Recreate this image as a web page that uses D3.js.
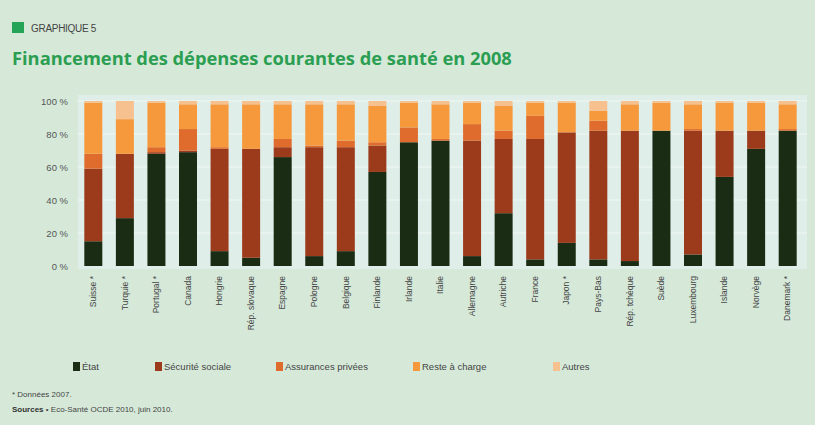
<!DOCTYPE html>
<html>
<head>
<meta charset="utf-8">
<script src="https://cdn.jsdelivr.net/npm/d3@7"></script>
<style>
  body { margin: 0; background: #d6e9d9; }
  svg { display: block; }
  text { font-family: "Liberation Sans Narrow", "Liberation Sans", sans-serif; }
</style>
</head>
<body>
<div id="chart"></div>
<script>
// data (percent of current health spending)
const countries = ["Suisse *", "Turquie *", "Portugal *", "Canada", "Hongrie", "Rép. slovaque",
  "Espagne", "Pologne", "Belgique", "Finlande", "Irlande", "Italie", "Allemagne", "Autriche",
  "France", "Japon *", "Pays-Bas", "Rép. tchèque", "Suède", "Luxembourg", "Islande", "Norvège",
  "Danemark *"];
const etat        = [15, 29, 68, 69, 9, 5, 66, 6, 9, 57, 75, 76, 6, 32, 4, 14, 4, 3, 82, 7, 54, 71, 82];
const secu        = [44, 39, 1, 1, 62, 66, 6, 66, 63, 16, 0, 0, 70, 45, 73, 67, 78, 79, 0, 75, 28, 11, 0];
const assurances  = [9, 0, 3, 13, 1, 0, 5, 1, 4, 2, 9, 1, 10, 5, 14, 0, 6, 0, 0, 1, 0, 0, 1];
const resteCharge = [31, 21, 27, 15, 26, 27, 21, 25, 22, 22, 15, 21, 13, 15, 8, 18, 6, 16, 17, 15, 17, 17, 15];
const autres      = [1, 11, 1, 2, 2, 2, 2, 2, 2, 3, 1, 2, 1, 3, 1, 1, 6, 2, 1, 2, 1, 1, 2];
const seriesNames = ["État", "Sécurité sociale", "Assurances privées", "Reste à charge", "Autres"];
const yTicks = [0, 20, 40, 60, 80, 100];

const W = 815, H = 425;
const colors = ["#1a2c14", "#9c3b1c", "#df6c2c", "#f5993c", "#f6c08f"];
const keys = ["etat", "secu", "assurances", "resteCharge", "autres"];

const rows = countries.map((c, i) => ({
  country: c, etat: etat[i], secu: secu[i], assurances: assurances[i],
  resteCharge: resteCharge[i], autres: autres[i]
}));

const svg = d3.select("#chart").append("svg").attr("width", W).attr("height", H);
svg.append("rect").attr("width", W).attr("height", H).attr("fill", "#d6e9d9");

// header
svg.append("rect").attr("x", 12).attr("y", 22).attr("width", 12).attr("height", 11).attr("fill", "#23a457");
svg.append("text").attr("x", 31).attr("y", 32).attr("font-size", 10).attr("fill", "#444")
  .style("letter-spacing", "-0.3px").text("GRAPHIQUE 5");
svg.append("text").attr("x", 12).attr("y", 65).attr("font-size", 18.3).attr("font-weight", "bold")
  .style("font-family", "'Open Sans', sans-serif")
  .attr("fill", "#2b9e52").text("Financement des dépenses courantes de santé en 2008");

const x = d3.scaleBand().domain(countries).range([78, 803]).paddingInner(0.43).paddingOuter(0.2);
const y = d3.scaleLinear().domain([0, 100]).range([266, 101]);

// plot panel
svg.append("rect").attr("x", 78).attr("y", 95).attr("width", 729).attr("height", 174)
  .attr("fill", "#dfeee8");
svg.append("g").selectAll("line").data(yTicks.slice(1)).join("line")
  .attr("x1", 78).attr("x2", 807)
  .attr("y1", d => y(d)).attr("y2", d => y(d))
  .attr("stroke", "#f1f8f4").attr("stroke-width", 1);

const yAxis = d3.axisLeft(y).tickValues(yTicks).tickSize(0).tickPadding(0)
  .tickFormat(d => d + " %");
const gy = svg.append("g").attr("transform", "translate(68,0)").call(yAxis);
gy.select(".domain").remove();
gy.selectAll("text").attr("font-size", 9.5).attr("fill", "#555").attr("font-family", null);

const stacked = d3.stack().keys(keys)(rows);
svg.append("g").selectAll("g").data(stacked).join("g")
  .attr("fill", (d, i) => colors[i])
  .selectAll("rect").data(d => d).join("rect")
  .attr("x", d => x(d.data.country))
  .attr("width", x.bandwidth())
  .attr("y", d => y(d[1]))
  .attr("height", d => y(d[0]) - y(d[1]));

const xAxis = d3.axisBottom(x).tickSize(0).tickPadding(0);
const gx = svg.append("g").attr("transform", "translate(0,276)").call(xAxis);
gx.select(".domain").remove();
gx.selectAll("text")
  .attr("font-size", 8.5).attr("fill", "#444").attr("font-family", null)
  .attr("transform", "rotate(-90)").attr("x", 0).attr("y", 0).attr("dy", "0.32em")
  .style("text-anchor", "end");

// legend
const legendX = [73, 155, 276, 413, 553];
const legend = svg.append("g").selectAll("g").data(seriesNames).join("g")
  .attr("transform", (d, i) => `translate(${legendX[i]},362)`);
legend.append("rect").attr("width", 7).attr("height", 9).attr("fill", (d, i) => colors[i]);
legend.append("text").attr("x", 9).attr("y", 8).attr("font-size", 9.5).attr("fill", "#444").text(d => d);

// notes
svg.append("text").attr("x", 12).attr("y", 397).attr("font-size", 8).attr("fill", "#444").text("* Données 2007.");
const src = svg.append("text").attr("x", 12).attr("y", 412).attr("font-size", 8).attr("fill", "#444");
src.append("tspan").attr("font-weight", "bold").attr("fill", "#333").text("Sources");
src.append("tspan").text(" • Eco-Santé OCDE 2010, juin 2010.");
</script>
</body>
</html>
